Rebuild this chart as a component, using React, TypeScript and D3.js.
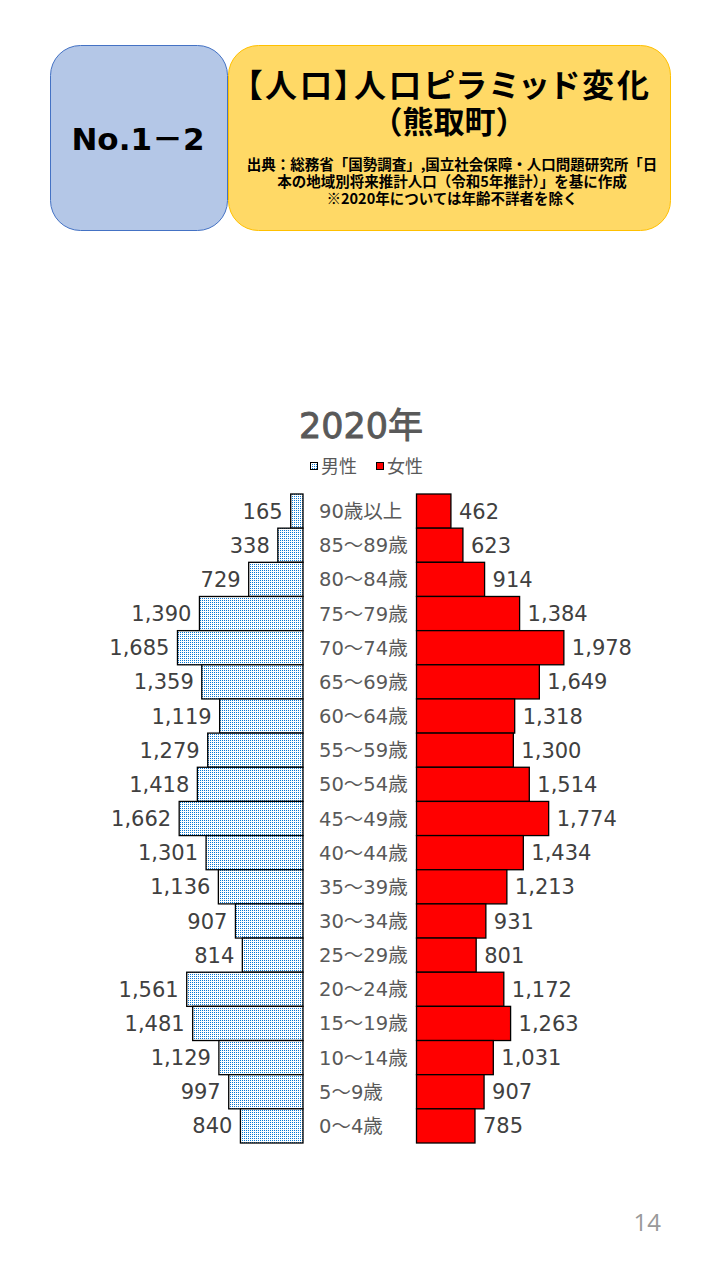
import React from "react";
import * as d3 from "d3";

const ageGroups = [
  "90歳以上", "85～89歳", "80～84歳", "75～79歳", "70～74歳", "65～69歳",
  "60～64歳", "55～59歳", "50～54歳", "45～49歳", "40～44歳", "35～39歳",
  "30～34歳", "25～29歳", "20～24歳", "15～19歳", "10～14歳", "5～9歳", "0～4歳",
];
const maleValues = [165, 338, 729, 1390, 1685, 1359, 1119, 1279, 1418, 1662, 1301, 1136, 907, 814, 1561, 1481, 1129, 997, 840];
const femaleValues = [462, 623, 914, 1384, 1978, 1649, 1318, 1300, 1514, 1774, 1434, 1213, 931, 801, 1172, 1263, 1031, 907, 785];
const seriesNames = ["男性", "女性"];

const FONT = "'Noto Sans CJK JP', 'Noto Sans', sans-serif";
const WIDE = "'DejaVu Sans', 'Noto Sans CJK JP', sans-serif";
const TEXT = "#595959";

export default function App() {
  const maleRight = 303;
  const femaleLeft = 416.5;
  const x = d3.scaleLinear().domain([0, 2000]).range([0, 149]);
  const y = d3.scaleBand<string>().domain(ageGroups).range([494, 1143]).padding(0);
  const fmt = d3.format(",");
  const bh = y.bandwidth();

  return (
    <svg width={720} height={1280} style={{ position: "absolute", left: 0, top: 0, background: "#fff" }} fontFamily={FONT}>
      <defs>
        <pattern id="dots" width={2} height={2} patternUnits="userSpaceOnUse">
          <rect width={2} height={2} fill="#ffffff" />
          <rect width={1} height={1} fill="#0a78d2" />
        </pattern>
      </defs>
      {/* header */}
      <rect x={50.5} y={45.5} width={177} height={185} rx={30} fill="#B4C7E7" stroke="#4472C4" strokeWidth={1} />
      <rect x={228.5} y={45.5} width={442} height={185} rx={30} fill="#FFD966" stroke="#FFC000" strokeWidth={1} />
      <text x={138} y={150} textAnchor="middle" fontSize={31} fontWeight="bold" fill="#000" fontFamily={WIDE}>No.1－2</text>
      <text x={449} y={97} textAnchor="middle" fontSize={32} fontWeight="bold" fill="#000" style={{ fontFeatureSettings: '"palt"' }} letterSpacing={3}>【人口】人口ピラミッド変化</text>
      <text x={449} y={133} textAnchor="middle" fontSize={31} fontWeight="bold" fill="#000">（熊取町）</text>
      <g fontSize={14.5} fontWeight="bold" fill="#000" textAnchor="middle">
        <text x={452} y={170}>出典：総務省「国勢調査」,国立社会保障・人口問題研究所「日</text>
        <text x={452} y={187}>本の地域別将来推計人口（令和5年推計）」を基に作成</text>
        <text x={452} y={204}>※2020年については年齢不詳者を除く</text>
      </g>

      {/* chart title */}
      <text x={361} y={438} textAnchor="middle" fontSize={35} fill={TEXT} stroke={TEXT} strokeWidth={0.9} fontFamily={WIDE}>2020年</text>
      {/* legend */}
      <rect x={310.5} y={462.5} width={7} height={7} fill="url(#dots)" stroke="#000" strokeWidth={1} />
      <text x={321} y={473} fontSize={18} fill={TEXT}>{seriesNames[0]}</text>
      <rect x={376.5} y={462.5} width={7} height={7} fill="#FF0000" stroke="#000" strokeWidth={1} />
      <text x={387} y={473} fontSize={18} fill={TEXT}>{seriesNames[1]}</text>

      {/* bars */}
      {ageGroups.map((g, i) => {
        const yy = y(g)!;
        const mw = x(maleValues[i]);
        const fw = x(femaleValues[i]);
        const cy = yy + bh / 2;
        return (
          <g key={g}>
            <rect x={maleRight - mw} y={yy} width={mw} height={bh} fill="url(#dots)" stroke="#000" strokeWidth={1.3} />
            <rect x={femaleLeft} y={yy} width={fw} height={bh} fill="#FF0000" stroke="#000" strokeWidth={1.3} />
            <text x={maleRight - mw - 8} y={cy} dy="0.36em" textAnchor="end" fontSize={21} fill="#404040" fontFamily={WIDE}>{fmt(maleValues[i])}</text>
            <text x={femaleLeft + fw + 8} y={cy} dy="0.36em" textAnchor="start" fontSize={21} fill="#404040" fontFamily={WIDE}>{fmt(femaleValues[i])}</text>
            <text x={319} y={cy} dy="0.36em" textAnchor="start" fontSize={19.5} fill={TEXT} fontFamily={WIDE}>{g}</text>
          </g>
        );
      })}

      <text x={661} y={1231} textAnchor="end" fontSize={24} fill="#999999" fontFamily="'Open Sans', 'Noto Sans', sans-serif">14</text>
    </svg>
  );
}
